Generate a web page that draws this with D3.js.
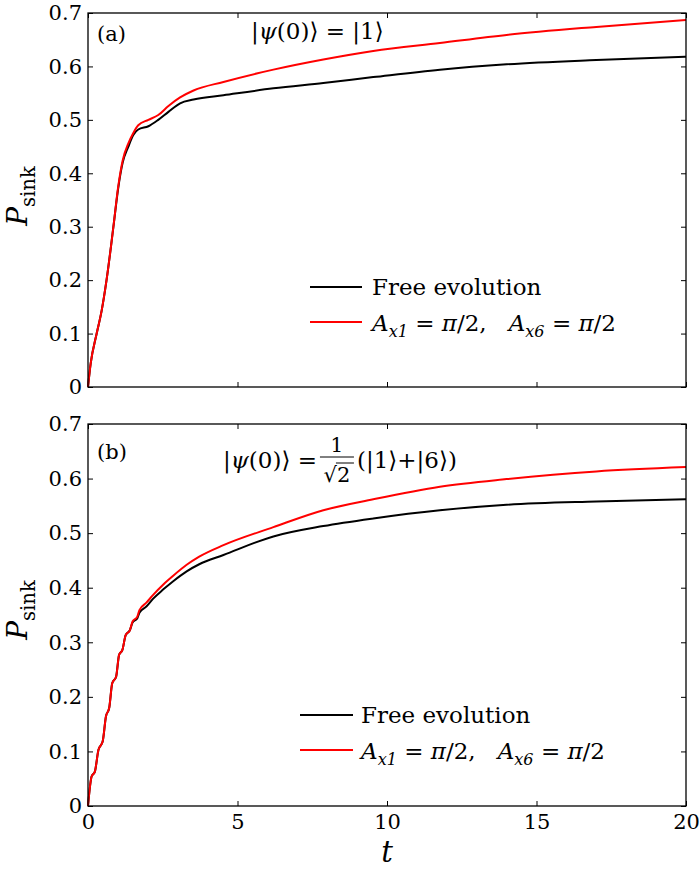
<!DOCTYPE html>
<html><head><meta charset="utf-8">
<script src="https://cdn.jsdelivr.net/npm/d3@7"></script>
<style>
body{margin:0;background:#fff}
svg{display:block}
text{font-family:"DejaVu Serif",serif;fill:#000;white-space:pre}
</style></head>
<body><svg id="c" width="700" height="871"></svg>
<script>
// ---- data ----
const tA    = [0, 0.09, 0.29, 0.46, 0.62, 0.85, 1.01, 1.16, 1.35, 1.52, 1.68, 2.02, 2.35, 2.69, 3.08, 3.53, 4.53, 6.2, 7.87, 9.54, 11.77, 14, 17, 20];
const freeA = [0, 0.044, 0.1, 0.144, 0.2, 0.3, 0.372, 0.42, 0.45, 0.472, 0.482, 0.488, 0.5, 0.515, 0.531, 0.538, 0.546, 0.559, 0.569, 0.58, 0.594, 0.604, 0.612, 0.618];
const ctrlA = [0, 0.044, 0.1, 0.144, 0.2, 0.3, 0.375, 0.424, 0.456, 0.476, 0.49, 0.5, 0.509, 0.526, 0.542, 0.555, 0.571, 0.594, 0.613, 0.629, 0.644, 0.659, 0.674, 0.687];

const tB    = [0, 0.12, 0.23, 0.35, 0.49, 0.6, 0.71, 0.81, 0.94, 1.04, 1.15, 1.26, 1.4, 1.49, 1.65, 1.72, 1.96, 2.18, 2.52, 2.85, 3.3, 3.72, 4.53, 6.2, 7.87, 9.54, 11.77, 14, 17, 20];
const freeB = [0, 0.054, 0.063, 0.103, 0.118, 0.164, 0.18, 0.225, 0.237, 0.277, 0.286, 0.313, 0.322, 0.336, 0.344, 0.354, 0.366, 0.38, 0.397, 0.412, 0.43, 0.443, 0.46, 0.494, 0.513, 0.527, 0.542, 0.552, 0.558, 0.562];
const ctrlB = [0, 0.054, 0.063, 0.103, 0.118, 0.164, 0.18, 0.225, 0.237, 0.277, 0.286, 0.313, 0.322, 0.338, 0.347, 0.359, 0.373, 0.387, 0.406, 0.422, 0.442, 0.457, 0.478, 0.511, 0.542, 0.562, 0.585, 0.599, 0.613, 0.621];

const xTicks = [0, 5, 10, 15, 20];
const xTickLabels = ["0", "5", "10", "15", "20"];
const yTicks = [0, 0.1, 0.2, 0.3, 0.4, 0.5, 0.6, 0.7];
const yTickLabels = ["0", "0.1", "0.2", "0.3", "0.4", "0.5", "0.6", "0.7"];
const seriesNames = ["Free evolution", "ctrl"];
const seriesColors = ["#000000", "#ff0000"];

// ---- layout ----
const svg = d3.select("#c");
const L = 88, R = 686;
const panels = [
  {label:"(a)", t:tA, free:freeA, ctrl:ctrlA, top:13, bottom:387, xLabels:false,
   legendY:287, labelY:41, ylabY:196},
  {label:"(b)", t:tB, free:freeB, ctrl:ctrlB, top:424, bottom:806, xLabels:true,
   legendY:715, labelY:459, ylabY:610}
];
const x = d3.scaleLinear().domain([0,20]).range([L,R]);

function mathText(parent, px, py, segs, size, anchor){
  const t = parent.append("text").attr("x",px).attr("y",py).attr("font-size",size)
    .attr("text-anchor", anchor||"start");
  let cur = 0;
  segs.forEach(([s,st])=>{
    const sub = st[0]==="s";
    const target = sub ? size*0.28 : 0;
    t.append("tspan").text(s).attr("dy", target-cur)
      .attr("font-style", st[st.length-1]==="i" ? "italic" : "normal")
      .attr("font-size", sub ? size*0.7 : size);
    cur = target;
  });
  return t;
}

panels.forEach((p,pi)=>{
  const y = d3.scaleLinear().domain([0,0.7]).range([p.bottom,p.top]);
  const g = svg.append("g");
  const fs = 21;
  // axes
  const ax = [
    g.append("g").attr("transform",`translate(${L},0)`).call(d3.axisLeft(y).tickValues(yTicks).tickFormat((d,i)=>yTickLabels[i]).tickSize(-5).tickPadding(6)),
    g.append("g").attr("transform",`translate(${R},0)`).call(d3.axisRight(y).tickValues(yTicks).tickFormat("").tickSize(-5)),
    g.append("g").attr("transform",`translate(0,${p.top})`).call(d3.axisTop(x).tickValues(xTicks).tickFormat("").tickSize(-5)),
    g.append("g").attr("transform",`translate(0,${p.bottom})`).call(d3.axisBottom(x).tickValues(xTicks).tickFormat(p.xLabels?((d,i)=>xTickLabels[i]):"").tickSize(-5).tickPadding(8))
  ];
  ax.forEach(a=>{
    a.attr("font-family",null).attr("font-size",fs);
    a.select(".domain").remove();
    a.selectAll(".tick line").attr("stroke","#000").attr("stroke-width",1);
    a.selectAll(".tick text").attr("fill","#000");
  });
  // lines
  const line = (vals)=>d3.line().x((d,i)=>x(p.t[i])).y(d=>y(d)).curve(d3.curveMonotoneX)(vals);
  [p.free, p.ctrl].forEach((vals,si)=>{
    g.append("path").attr("d", line(vals)).attr("fill","none")
      .attr("stroke", seriesColors[si]).attr("stroke-width",2).attr("stroke-linejoin","round");
  });
  // frame
  g.append("rect").attr("x",L).attr("y",p.top).attr("width",R-L).attr("height",p.bottom-p.top)
    .attr("fill","none").attr("stroke","#000").attr("stroke-width",1.3);
  // panel label
  g.append("text").attr("x",97).attr("y",p.labelY).attr("font-size",21).text(p.label);
  // y label
  const yl = g.append("g").attr("transform",`translate(27,${p.ylabY}) rotate(-90)`);
  mathText(yl, 0, 0, [["P","i"],["sink","sr"]], 28, "middle");
  // legend
  const lx0 = pi===0 ? 310 : 300, lx1 = pi===0 ? 362 : 353, tx = pi===0 ? 372 : 361;
  [0,1].forEach(k=>{
    const ly = p.legendY + k*35;
    g.append("line").attr("x1",lx0).attr("x2",lx1).attr("y1",ly).attr("y2",ly)
      .attr("stroke",seriesColors[k]).attr("stroke-width",2);
    if(k===0){
      g.append("text").attr("x",tx).attr("y",ly+8).attr("font-size",23).text(seriesNames[0]);
    } else {
      mathText(g, tx, ly+9, [["A","i"],["x1","si"],[" = ","r"],["π","i"],["/2,   ","r"],["A","i"],["x6","si"],[" = ","r"],["π","i"],["/2","r"]], 23);
    }
  });
});

// titles
mathText(svg, 251, 39, [["|","r"],["ψ","i"],["(0)⟩ = |1⟩","r"]], 23);
const tb = mathText(svg, 223, 468, [["|","r"],["ψ","i"],["(0)⟩ =","r"]], 23);
const w1 = tb.node().getComputedTextLength();
const fx = 223 + w1 + 3, fw = 34;
svg.append("text").attr("x",fx+fw/2).attr("y",452).attr("font-size",20).attr("text-anchor","middle").text("1");
svg.append("line").attr("x1",fx).attr("x2",fx+fw).attr("y1",457).attr("y2",457).attr("stroke","#000").attr("stroke-width",1);
svg.append("text").attr("x",fx+fw/2).attr("y",482).attr("font-size",21).attr("text-anchor","middle").text("√2");
svg.append("line").attr("x1",fx+fw/2-1).attr("x2",fx+fw).attr("y1",463).attr("y2",463).attr("stroke","#000").attr("stroke-width",1);
mathText(svg, fx+fw+3, 468, [["(|1⟩+|6⟩)","r"]], 23);

// x label
mathText(svg, 387, 862, [["t","i"]], 29, "middle");
</script>
</body></html>
